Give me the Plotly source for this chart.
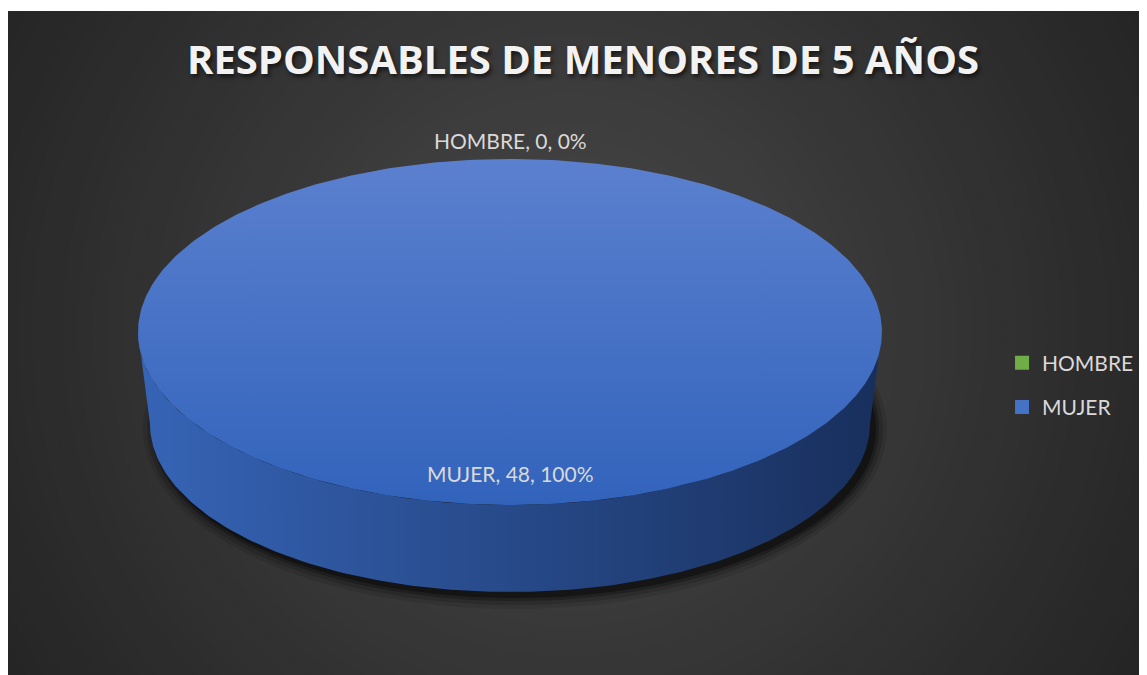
import numpy as np
import plotly.graph_objects as go

# data
categories = ["HOMBRE", "MUJER"]
values = [0, 48]
legend_colors = ["#70ad47", "#4472c4"]
top_colors = [("#5f9e3c", "#86c35c"), ("#3263bb", "#5b80cf")]
side_colors = [("#4f8a2f", "#2f5a1c"), ("#3664b6", "#182f5c")]
title_text = "RESPONSABLES DE MENORES DE 5 AÑOS"

W, H = 1147, 675
OFF = 8  # browser body margin
# pie geometry in page pixels (y measured upward from bottom)
cx, cy = 510, H - 332
rx, ry = 372, 173
rxb, ryb, depth = 360, 168, 92


def top_pt(t):
    return cx + rx * np.cos(t), cy + ry * np.sin(t)


def bot_pt(t):
    return cx + rxb * np.cos(t), cy - depth + ryb * np.sin(t)


total = sum(values)
fig = go.Figure()

# background radial gradient
shapes = []
gcx, gcy = 570, H - 330
for r in np.linspace(900, 10, 60):
    f = min(r / 700.0, 1.0) ** 0.9
    v = int(round(0x4c - (0x4c - 0x23) * f))
    shapes.append(dict(type="circle", xref="x", yref="y", layer="below",
                       x0=gcx - r, x1=gcx + r, y0=gcy - r, y1=gcy + r,
                       fillcolor=f"rgb({v},{v},{v})", line=dict(width=0)))
# soft shadow under the disc
for k, a in [(12, 0.10), (8, 0.15), (4, 0.25), (1, 0.35)]:
    shapes.append(dict(type="circle", xref="x", yref="y", layer="below",
                       x0=cx - rxb - k + 5, x1=cx + rxb + k + 5,
                       y0=cy - depth - ryb - k - 5, y1=cy - depth + ryb + k - 5,
                       fillcolor=f"rgba(0,0,0,{a})", line=dict(width=0)))

start = np.pi / 2
angles = []
for v in values:
    sweep = 2 * np.pi * v / total
    angles.append((start, start - sweep))
    start -= sweep

# side walls (front half only)
for i, (a0, a1) in enumerate(angles):
    lo, hi = min(a0, a1), max(a0, a1)
    segs = []
    for base in (-2 * np.pi, 0.0):
        s, e = max(lo, base + np.pi), min(hi, base + 2 * np.pi)
        if e > s:
            segs.append((s, e))
    for s, e in segs:
        t = np.linspace(s, e, 200)
        x1, y1 = top_pt(t)
        x2, y2 = bot_pt(t[::-1])
        fig.add_trace(go.Scatter(
            x=np.concatenate([x1, x2, x1[:1]]), y=np.concatenate([y1, y2, y1[:1]]),
            mode="lines", line=dict(width=0), fill="toself",
            fillgradient=dict(type="horizontal", start=cx - rx, stop=cx + rx,
                              colorscale=[[0, side_colors[i][0]], [1, side_colors[i][1]]]),
            hoverinfo="skip", showlegend=False))

# top faces
for i, (a0, a1) in enumerate(angles):
    t = np.linspace(a0, a1, 400)
    ex, ey = top_pt(t)
    fig.add_trace(go.Scatter(
        x=np.concatenate([[cx], ex, [cx]]), y=np.concatenate([[cy], ey, [cy]]),
        mode="lines", line=dict(width=0), fill="toself",
        fillgradient=dict(type="vertical", start=cy - ry, stop=cy + ry,
                          colorscale=[[0, top_colors[i][0]], [1, top_colors[i][1]]]),
        showlegend=False,
        hovertemplate=f"{categories[i]}: {values[i]}<extra></extra>"))

# legend entries
for i, name in enumerate(categories):
    fig.add_trace(go.Scatter(
        x=[None], y=[None], mode="markers", name=name, legendgroup=name,
        marker=dict(symbol="square", size=14, color=legend_colors[i])))

# data labels
annotations = []
for i, (a0, a1) in enumerate(angles):
    mid = (a0 + a1) / 2
    pct = 100 * values[i] / total
    if pct < 1:
        lx, ly = cx + (rx + 19) * np.cos(mid), cy + (ry + 19) * np.sin(mid)
    else:
        lx, ly = cx + 0.82 * rx * np.cos(mid), cy + 0.82 * ry * np.sin(mid)
    annotations.append(dict(x=lx, y=ly, xref="x", yref="y", showarrow=False,
                            text=f"{categories[i]}, {values[i]}, {pct:.0f}%",
                            font=dict(family="Lato", size=21, color="#d9d9d9")))

annotations.append(dict(x=583, y=H - 58, xref="x", yref="y", showarrow=False,
                        text=f"<b>{title_text}</b>",
                        font=dict(family="Open Sans", size=40, color="#f2f2f2",
                                  shadow="2px 3px 4px rgba(0,0,0,0.6)")))

fig.update_layout(
    width=W - OFF, height=H - OFF,
    margin=dict(l=0, r=0, t=3, b=0, autoexpand=False),
    paper_bgcolor="white", plot_bgcolor="#262626",
    xaxis=dict(range=[OFF, W], visible=False, fixedrange=True),
    yaxis=dict(range=[0, H - 11], visible=False, fixedrange=True),
    shapes=shapes, annotations=annotations,
    legend=dict(x=0.993, y=(H - 385) / (H - 11),
                xanchor="right", yanchor="middle", bgcolor="rgba(0,0,0,0)",
                font=dict(family="Lato", size=21, color="#d9d9d9"),
                tracegroupgap=14, itemwidth=30),
    showlegend=True,
)

fig.write_html("out.html")
